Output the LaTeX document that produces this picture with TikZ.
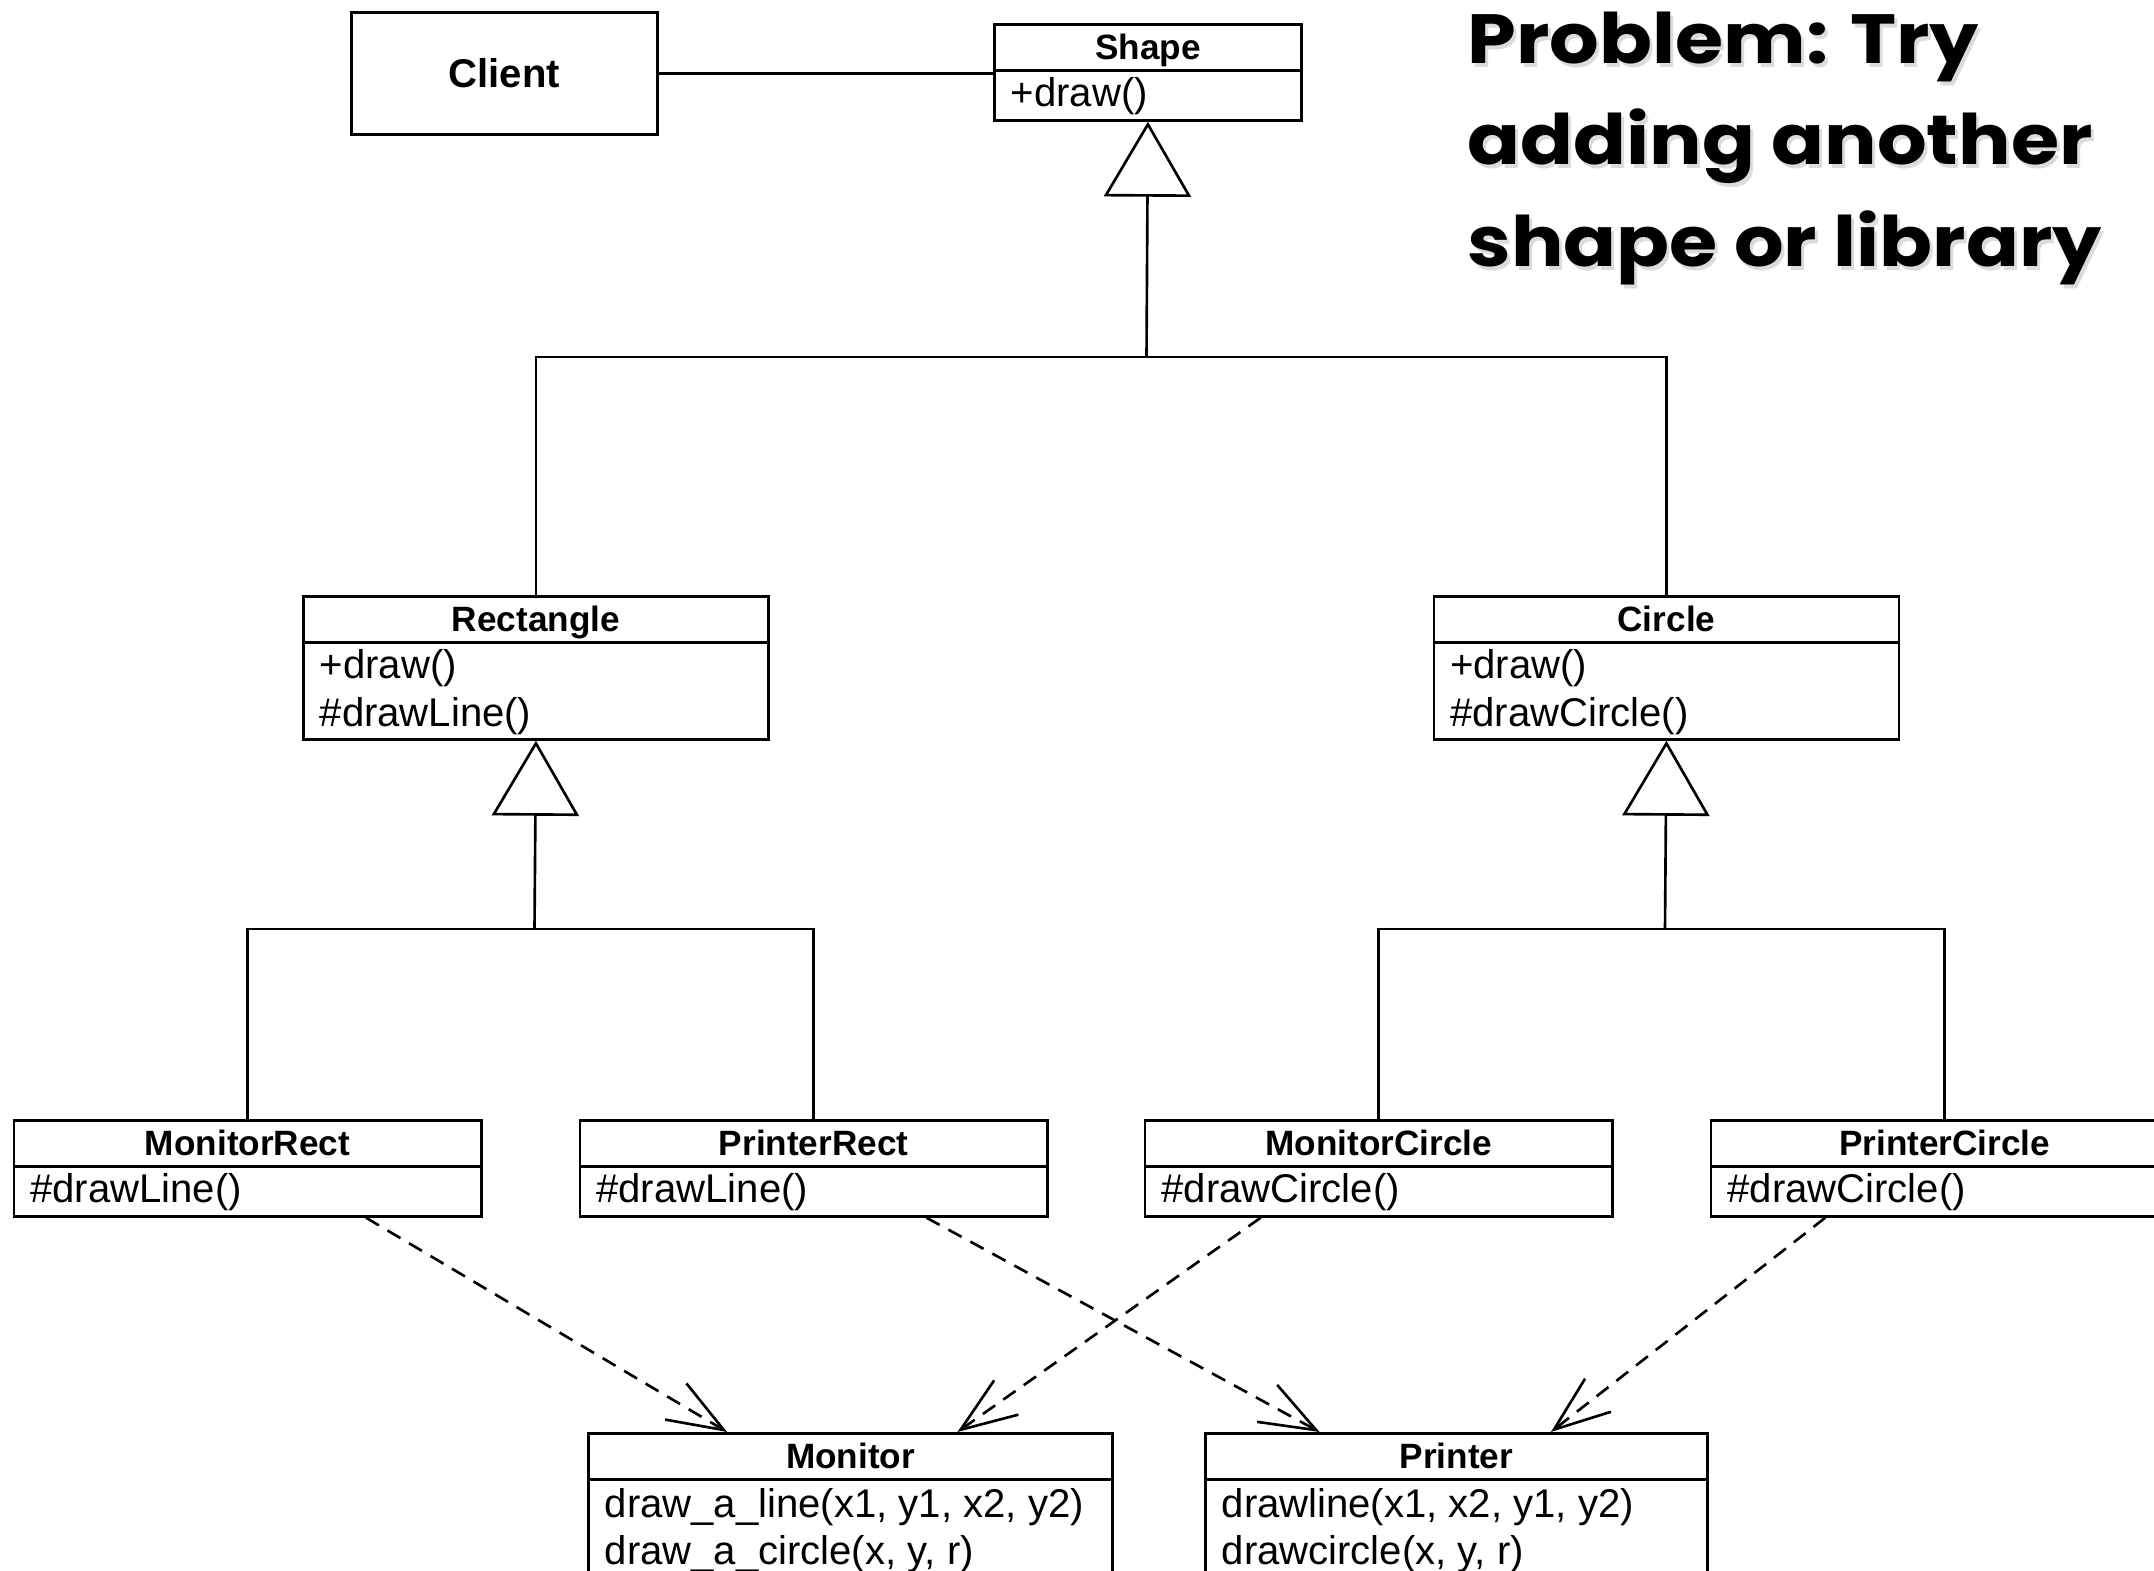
\documentclass[tikz,border=0pt]{standalone}
\usepackage{fontspec}
\setmainfont{Liberation Sans}
\newfontfamily\titlefont[FakeStretch=1.12]{Poppins}
\usetikzlibrary{arrows.meta,calc}
\tikzset{
  ln/.style={line width=0.75pt},
  box/.style={draw, line width=0.75pt, inner sep=0pt, anchor=north west},
  ttl/.style={font=\bfseries, inner sep=0pt},
  row/.style={inner sep=0pt, anchor=base west},
  inh/.style={line width=0.75pt, -{Triangle[open, length=0.75cm, width=0.87cm, line width=0.75pt]}},
  dep/.style={line width=0.75pt, dash pattern=on 0.15cm off 0.1cm,
    -{Straight Barb[length=0.56cm, width=0.42cm, line width=0.75pt]}},
  bigtitle/.style={inner sep=0pt, anchor=base west, font=\titlefont\bfseries\fontsize{19.8}{28.7}\selectfont},
  shadowtxt/.style={bigtitle, text=black!45, opacity=0.3},
}
\newcommand\umlbox[6]{%
  \node[box, minimum width=#4cm, minimum height=#5cm] (#1) at (#2,#3) {};
  \draw[ln] ([yshift=-0.475cm]#1.north west) -- ([yshift=-0.475cm]#1.north east);
  \node[ttl, anchor=base] (#1-t) at ([yshift=-0.36cm]#1.north) {#6};
}
\newcommand\umlrow[4]{%
  \node[row] (#1-#2) at ([xshift=0.17cm, yshift=-#3cm]#1.north west) {#4};
}
\begin{document}
\begin{tikzpicture}[x=0.01cm, y=-0.01cm, font=\fontsize{11.4}{13.7}\selectfont]
\useasboundingbox (0,0) rectangle (2154,1571);

% Client
\node[box, font=\bfseries\fontsize{11.4}{13.7}\selectfont, minimum width=3.06cm, minimum height=1.22cm] (client) at (350,11) {Client};

% Shape
\umlbox{shape}{993}{23}{3.07}{0.96}{Shape}
\umlrow{shape}{1}{0.835}{+draw()}

% Rectangle / Circle
\umlbox{rect}{302}{595}{4.65}{1.43}{Rectangle}
\umlrow{rect}{1}{0.835}{+draw()}
\umlrow{rect}{2}{1.315}{\#drawLine()}
\umlbox{circ}{1432.5}{595}{4.65}{1.43}{Circle}
\umlrow{circ}{1}{0.835}{+draw()}
\umlrow{circ}{2}{1.315}{\#drawCircle()}

% Concrete classes
\umlbox{mrect}{12.6}{1119}{4.67}{0.96}{MonitorRect}
\umlrow{mrect}{1}{0.835}{\#drawLine()}
\umlbox{prect}{578.7}{1119}{4.67}{0.96}{PrinterRect}
\umlrow{prect}{1}{0.835}{\#drawLine()}
\umlbox{mcirc}{1143.7}{1119}{4.67}{0.96}{MonitorCircle}
\umlrow{mcirc}{1}{0.835}{\#drawCircle()}
\umlbox{pcirc}{1709.7}{1119}{4.67}{0.96}{PrinterCircle}
\umlrow{pcirc}{1}{0.835}{\#drawCircle()}

% Libraries
\umlbox{mon}{587}{1432}{5.24}{1.70}{Monitor}
\umlrow{mon}{1}{0.855}{draw\_a\_line(x1, y1, x2, y2)}
\umlrow{mon}{2}{1.32}{draw\_a\_circle(x, y, r)}
\umlbox{prn}{1204}{1432}{5.02}{1.70}{Printer}
\umlrow{prn}{1}{0.855}{drawline(x1, x2, y1, y2)}
\umlrow{prn}{2}{1.32}{drawcircle(x, y, r)}

% Association
\draw[ln] (client.east) -- (client.east -| shape.west);

% Inheritance trees
\coordinate (b0) at (1146.5,357);
\draw[ln] (rect.north) |- (b0) -| (circ.north);
\draw[inh] (b0) -- (shape.south);

\coordinate (b1) at (534.5,929);
\draw[ln] (mrect.north) |- (b1) -| (prect.north);
\draw[inh] (b1) -- (rect.south);

\coordinate (b2) at (1665,929);
\draw[ln] (mcirc.north) |- (b2) -| (pcirc.north);
\draw[inh] (b2) -- (circ.south);

% Dependencies
\draw[dep] ($(mrect.south west)!0.752!(mrect.south east)$) -- ($(mon.north west)!0.266!(mon.north east)$);
\draw[dep] ($(prect.south west)!0.740!(prect.south east)$) -- ($(prn.north west)!0.229!(prn.north east)$);
\draw[dep] ($(mcirc.south west)!0.249!(mcirc.south east)$) -- ($(mon.north west)!0.703!(mon.north east)$);
\draw[dep] ($(pcirc.south west)!0.246!(pcirc.south east)$) -- ($(prn.north west)!0.687!(prn.north east)$);

% Title (with soft shadow)
\node[shadowtxt] (ts1) at (1470,68) {Problem: Try};
\node[shadowtxt] (ts2) at (1470,169) {adding another};
\node[shadowtxt] (ts3) at (1470,271) {shape or library};
\node[bigtitle] (tt1) at (1467,64) {Problem: Try};
\node[bigtitle] (tt2) at (1467,165) {adding another};
\node[bigtitle] (tt3) at (1467,267) {shape or library};
\end{tikzpicture}
\end{document}
